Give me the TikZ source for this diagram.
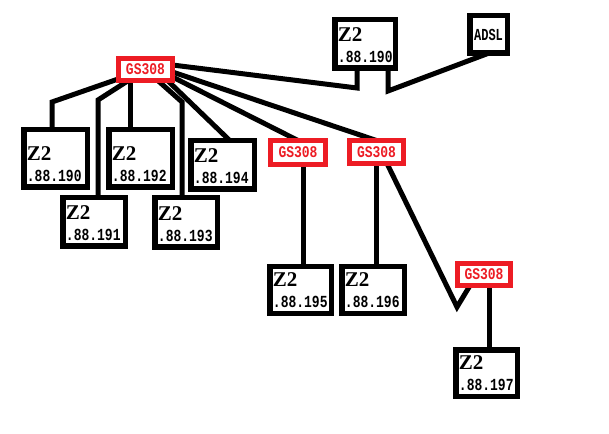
\documentclass[tikz,border=0pt]{standalone}
\usepackage{fontspec}
\setmainfont{Liberation Serif}
\newfontfamily\monofnt{Liberation Mono}
\definecolor{pred}{RGB}{237,28,36}
\pgfdeclarelayer{bg}
\pgfsetlayers{bg,main}
\newcommand{\zfnt}{\fontsize{21bp}{19bp}\selectfont\bfseries}
\newcommand{\nfnt}{\monofnt\fontsize{13bp}{19bp}\selectfont\bfseries}
\newcommand{\zbox}[6]{%
  \node[z2box, minimum width=#4bp-5.5bp, minimum height=#5bp-5.5bp] (#1) at (#2,#3) {};
  \node[ztext] (#1t) at ([xshift=3bp, yshift=5.25bp]#1.south west)
    {{\zfnt\scalebox{1.0}[1]{Z2}}\\[2bp]{\nfnt\scalebox{1}[1.3]{#6}}};}
\newcommand{\gbox}[5]{%
  \node[gsbox, minimum width=#4bp-5bp, minimum height=#5bp-5bp] (#1) at (#2,#3) {\scalebox{1}[1.25]{GS308}};}
\begin{document}
\begin{tikzpicture}[x=1bp,y=-1bp,
  z2box/.style={draw=black, line width=5.5bp, inner sep=0pt, outer sep=0pt, fill=white},
  gsbox/.style={draw=pred, line width=5bp, inner sep=0pt, outer sep=0pt, fill=white, text=pred,
    font=\monofnt\bfseries\fontsize{13bp}{13bp}\selectfont},
  wire/.style={line width=5bp, draw=black},
  ztext/.style={anchor=south west, inner sep=0pt, align=left, font=\fontsize{13bp}{19bp}\selectfont}
]
\begin{pgfonlayer}{bg}
\fill[white] (0,0) rectangle (609,434);
\end{pgfonlayer}
\useasboundingbox (0,0) rectangle (609,434);

% switches
\gbox{gsA}{145.5}{69.5}{59}{27}
\gbox{gsB}{298}{152.5}{60}{29}
\gbox{gsC}{376.5}{152}{59}{28}
\gbox{gsD}{484}{274.5}{58}{27}

% hosts
\zbox{z190}{55.5}{158.5}{69}{63}{.88.190}
\zbox{z191}{94}{222}{68}{54}{.88.191}
\zbox{z192}{140.5}{158.5}{69}{63}{.88.192}
\zbox{z193}{186}{222.5}{68}{55}{.88.193}
\zbox{z194}{222.5}{165}{69}{54}{.88.194}
\zbox{z195}{300.5}{290}{67}{52}{.88.195}
\zbox{z196}{373}{290}{68}{52}{.88.196}
\zbox{z197}{486.5}{373}{67}{52}{.88.197}
\zbox{ztop}{365}{44}{66}{54}{.88.190}

\node[z2box, minimum width=43bp-5.5bp, minimum height=43bp-5.5bp,
  font=\monofnt\bfseries\fontsize{12bp}{12bp}\selectfont] (adsl) at (488.5,34.5)
  {\scalebox{1}[1.4]{ADSL}};

% connectors
\coordinate (k190) at (52,102);
\coordinate (k191) at (98,100);
\coordinate (k193) at (182,102);
\coordinate (kT) at (357,88);
\coordinate (kA) at (388,91);
\coordinate (kD) at (457,307);
\begin{pgfonlayer}{bg}
\draw[wire] (gsA) -- (k190) -- (k190 |- z190.north);
\draw[wire] (gsA) -- (k191) -- (k191 |- z191.north);
\draw[wire] ([xshift=-15.5bp]gsA.south) -- ([xshift=-15.5bp]gsA.south |- z192.north);
\draw[wire] (gsA) -- (k193) -- (k193 |- z193.north);
\draw[wire] ([xshift=-5bp]gsA.south east) -- ([xshift=7.5bp]z194.north);
\draw[wire] ([yshift=-7.5bp]gsA.east) -- (gsB.north);
\draw[wire] ([yshift=-2.5bp]gsA.east) -- (gsC.north);
\draw[wire] ([yshift=4.5bp]gsA.east) -- (kT) -- (kT |- ztop.south);
\draw[wire] (kA |- ztop.south) -- (kA) -- (adsl.south);
\draw[wire] ([xshift=5bp]gsB.south) -- ([xshift=5bp]gsB.south |- z195.north);
\draw[wire] (gsC.south) -- (gsC.south |- z196.north);
\draw[wire] ([xshift=10.5bp]gsC.south) -- (kD) -- ([xshift=-14bp]gsD.south);
\draw[wire] ([xshift=5bp]gsD.south) -- ([xshift=5bp]gsD.south |- z197.north);
\end{pgfonlayer}
\end{tikzpicture}
\end{document}
